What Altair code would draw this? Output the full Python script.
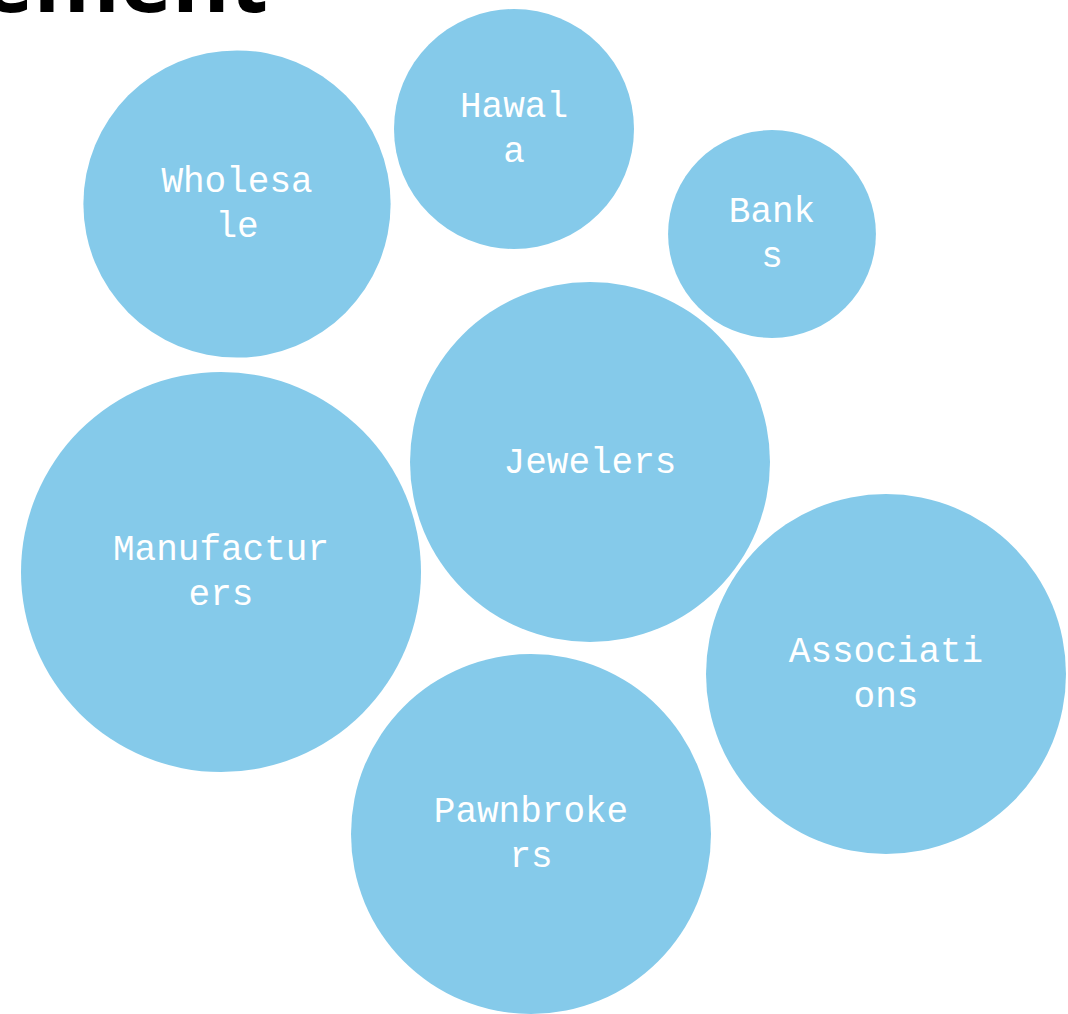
import altair as alt
import pandas as pd

# Bubble data (layout positions in chart units, value drives bubble area)
categories = ["Wholesale", "Hawala", "Banks", "Jewelers", "Manufacturers", "Associations", "Pawnbrokers"]
label_lines = [["Wholesa", "le"], ["Hawal", "a"], ["Bank", "s"], ["Jewelers"],
               ["Manufactur", "ers"], ["Associati", "ons"], ["Pawnbroke", "rs"]]
values = [59, 36, 27, 81, 100, 81, 81]
pos_x = [237, 514, 772, 590, 221, 886, 531]
pos_y = [204, 129, 234, 462, 572, 674, 834]

title_text = "Sector Engagement"

W, H = 1068, 1014
R_MAX = 200
LINE_H = 45

df = pd.DataFrame({
    "category": categories,
    "label": ["\n".join(l) for l in label_lines],
    "n_lines": [len(l) for l in label_lines],
    "value": values,
    "x": pos_x,
    "y": pos_y,
})

xs = alt.Scale(domain=[0, W], zero=False, nice=False)
ys = alt.Scale(domain=[0, H], zero=False, nice=False, reverse=True)

base = alt.Chart(df).encode(
    x=alt.X("x:Q", scale=xs, axis=None),
    y=alt.Y("y:Q", scale=ys, axis=None),
)

bubbles = base.mark_circle(color="#85CAEA", opacity=1).encode(
    size=alt.Size("value:Q", scale=alt.Scale(domain=[0, 100], range=[0, (2 * R_MAX) ** 2]), legend=None),
    tooltip=["category:N", "value:Q"],
)

text_style = dict(font="Liberation Mono", fontSize=36, color="white", align="center",
                  baseline="middle", lineBreak="\n", lineHeight=LINE_H)

labels_one = base.transform_filter("datum.n_lines == 1").mark_text(**text_style).encode(text="label:N")
labels_two = base.transform_filter("datum.n_lines == 2").mark_text(
    dy=-LINE_H / 2 - 1, **text_style).encode(text="label:N")

title = alt.Chart(pd.DataFrame({"t": [title_text]})).mark_text(
    font="Open Sans", fontSize=88, fontWeight="bold", color="black",
    align="right", baseline="alphabetic",
).encode(x=alt.value(268), y=alt.value(12), text="t:N")

chart = alt.layer(bubbles, labels_one, labels_two, title).properties(
    width=W, height=H, autosize=alt.AutoSizeParams(type="none"), padding=0,
).configure_view(stroke=None)

chart.save("out.html", embed_options={"renderer": "svg", "actions": False})
